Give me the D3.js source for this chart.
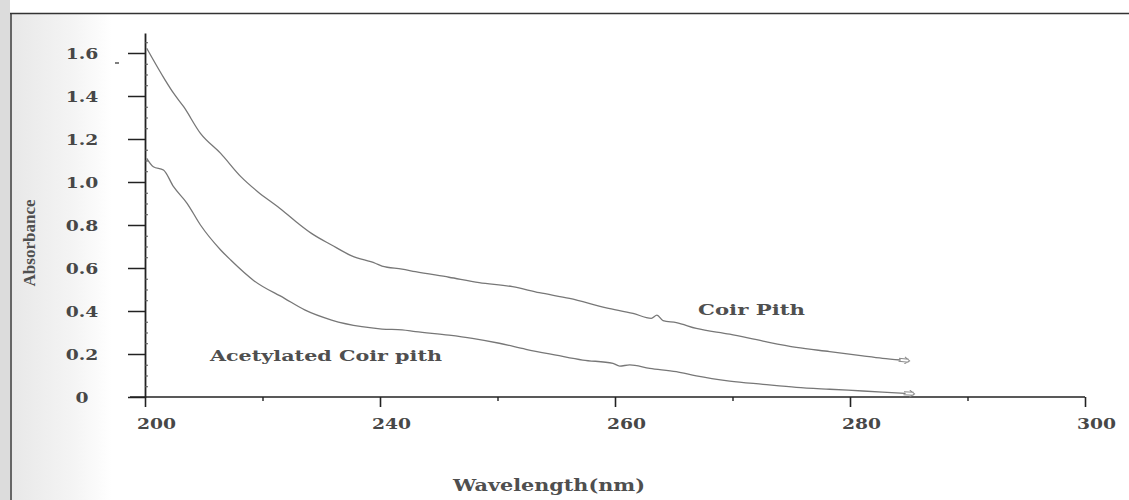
<!DOCTYPE html>
<html>
<head>
<meta charset="utf-8">
<script src="https://cdn.jsdelivr.net/npm/d3@7/dist/d3.min.js"></script>
<style>
  html, body { margin: 0; padding: 0; background: #fff; }
  svg { display: block; }
</style>
</head>
<body>
<svg id="chart" width="1129" height="500"></svg>
<script>
// ---- data ----
const xTickValues = [200, 240, 260, 280, 300];
const xMinorValues = [220, 250, 270, 290];
const yTickValues = [0, 0.2, 0.4, 0.6, 0.8, 1.0, 1.2, 1.4, 1.6];
const yTickLabels = ["0", "0.2", "0.4", "0.6", "0.8", "1.0", "1.2", "1.4", "1.6"];

const coirPithWavelength = [200.29, 203.43, 204.86, 206.58, 209.44, 212.88, 216.31, 219.18, 222.61, 226.04, 228.33, 231.76, 235.19, 239.19, 240.17, 241.88, 243.02, 245.87, 248.44, 251.28, 253.56, 256.13, 259.26, 261.53, 263.09, 263.57, 264.09, 265.22, 266.92, 269.76, 272.60, 275.43, 278.27, 281.09, 282.77, 284.31];
const coirPithAbsorbance = [1.622, 1.474, 1.413, 1.350, 1.226, 1.133, 1.025, 0.955, 0.885, 0.808, 0.761, 0.707, 0.656, 0.622, 0.609, 0.595, 0.583, 0.557, 0.532, 0.513, 0.485, 0.459, 0.415, 0.389, 0.366, 0.381, 0.355, 0.346, 0.319, 0.292, 0.260, 0.231, 0.211, 0.191, 0.180, 0.172];

const acetylWavelength = [200.29, 201.42, 203.14, 204.86, 207.16, 209.44, 212.88, 214.59, 218.59, 223.74, 227.18, 231.76, 236.91, 240.17, 241.88, 243.02, 245.87, 247.86, 250.15, 252.42, 254.98, 257.26, 259.83, 260.40, 261.25, 262.95, 265.22, 266.92, 269.76, 272.60, 275.43, 278.27, 281.09, 282.77, 284.73];
const acetylAbsorbance = [1.110, 1.071, 1.056, 0.978, 0.901, 0.800, 0.684, 0.637, 0.540, 0.459, 0.405, 0.358, 0.327, 0.316, 0.312, 0.304, 0.288, 0.273, 0.250, 0.222, 0.195, 0.172, 0.156, 0.144, 0.149, 0.133, 0.118, 0.098, 0.074, 0.059, 0.045, 0.036, 0.028, 0.023, 0.017];

const seriesNames = ["Coir Pith", "Acetylated Coir pith"];
const xTitle = "Wavelength(nm)";
const yTitle = "Absorbance";

// ---- layout ----
const svg = d3.select("#chart");
const plotLeft = 145, plotRight = 1085, plotBottom = 397, plotTop = 33;
const yMax = 1.693;

// background: scanned page edge
const defs = svg.append("defs");
const grad = defs.append("linearGradient").attr("id", "edge").attr("x1", "0").attr("x2", "1");
grad.append("stop").attr("offset", "0").attr("stop-color", "#e8e8e8");
grad.append("stop").attr("offset", "0.6").attr("stop-color", "#f4f4f4");
grad.append("stop").attr("offset", "1").attr("stop-color", "#ffffff");
svg.append("rect").attr("x", 0).attr("y", 0).attr("width", 10).attr("height", 500).attr("fill", "#dcdcdc");
svg.append("rect").attr("x", 12).attr("y", 14).attr("width", 100).attr("height", 486).attr("fill", "url(#edge)");
svg.append("line").attr("x1", 11).attr("x2", 11).attr("y1", 13).attr("y2", 500)
  .attr("stroke", "#333").attr("stroke-width", 1.5);
svg.append("line").attr("x1", 10).attr("x2", 1129).attr("y1", 13.5).attr("y2", 13.5)
  .attr("stroke", "#333").attr("stroke-width", 1.5);

// scales (evenly spaced tick labels -> polylinear scale)
const step = (plotRight - plotLeft) / (xTickValues.length - 1);
const x = d3.scaleLinear()
  .domain(xTickValues)
  .range(xTickValues.map((d, i) => plotLeft + i * step));
const y = d3.scaleLinear().domain([0, yMax]).range([plotBottom, plotTop]);

const tickFont = "'DejaVu Serif', 'Liberation Serif', serif";
const tickColor = "#474747";

// x axis
svg.append("line").attr("x1", plotLeft - 15).attr("x2", plotRight)
  .attr("y1", plotBottom).attr("y2", plotBottom)
  .attr("stroke", "#222").attr("stroke-width", 1.5);

const xAxis = svg.append("g").attr("transform", `translate(0,${plotBottom})`)
  .call(d3.axisBottom(x).tickValues(xTickValues).tickSize(10).tickSizeOuter(0).tickFormat(d => String(d)));
xAxis.select(".domain").remove();
xAxis.selectAll(".tick line").attr("stroke", "#222").attr("stroke-width", 1.6);
xAxis.selectAll(".tick text")
  .attr("y", 0).attr("dy", "0.35em")
  .attr("transform", "translate(11,27) scale(1.25,1)")
  .attr("font-family", tickFont).attr("font-weight", "bold")
  .attr("font-size", 15).attr("fill", tickColor);

const xMinor = svg.append("g").attr("transform", `translate(0,${plotBottom})`)
  .call(d3.axisBottom(x).tickValues(xMinorValues).tickSize(4).tickSizeOuter(0).tickFormat(""));
xMinor.select(".domain").remove();
xMinor.selectAll(".tick line").attr("stroke", "#222").attr("stroke-width", 1.4);

// y axis
const yAxis = svg.append("g").attr("transform", `translate(${plotLeft},0)`)
  .call(d3.axisLeft(y).tickValues(yTickValues).tickSize(17).tickSizeOuter(0)
    .tickFormat((d, i) => yTickLabels[i]));
yAxis.select(".domain").attr("stroke", "#222").attr("stroke-width", 1.8);
yAxis.selectAll(".tick line").attr("stroke", "#222").attr("stroke-width", 1.5);
yAxis.selectAll(".tick text")
  .attr("x", 0).attr("dy", "0.35em")
  .attr("text-anchor", "middle")
  .attr("transform", "translate(-63,0) scale(1.25,1)")
  .attr("font-family", tickFont).attr("font-weight", "bold")
  .attr("font-size", 15).attr("fill", tickColor);

const yMinorValues = d3.range(1, 34).map(i => i * 0.05).filter(v => Math.abs(v / 0.2 - Math.round(v / 0.2)) > 0.01);
const yMinor = svg.append("g").attr("transform", `translate(${plotLeft},0)`)
  .call(d3.axisRight(y).tickValues(yMinorValues).tickSize(3).tickSizeOuter(0).tickFormat(""));
yMinor.select(".domain").remove();
yMinor.selectAll(".tick line").attr("stroke", "#555").attr("stroke-width", 1);

// small stray mark next to 1.6
svg.append("line").attr("x1", plotLeft - 30).attr("x2", plotLeft - 26)
  .attr("y1", y(1.6) + 10).attr("y2", y(1.6) + 10).attr("stroke", "#555").attr("stroke-width", 1.5);

// series
defs.append("marker").attr("id", "endmark").attr("viewBox", "0 -4 12 8")
  .attr("refX", 2).attr("refY", 0).attr("markerWidth", 12).attr("markerHeight", 8)
  .attr("markerUnits", "userSpaceOnUse").attr("orient", "auto")
  .append("path").attr("d", "M0,-1.5 L10,-1.5 M0,1.5 L10,1.5 M6,-3.5 L11,0 L6,3.5")
  .attr("fill", "none").attr("stroke", "#8a8a8a").attr("stroke-width", 1);

const line = d3.line().x(d => x(d[0])).y(d => y(d[1])).curve(d3.curveMonotoneX);
const series = [
  d3.zip(coirPithWavelength, coirPithAbsorbance),
  d3.zip(acetylWavelength, acetylAbsorbance)
];
svg.selectAll("path.series").data(series).join("path")
  .attr("class", "series")
  .attr("d", line)
  .attr("fill", "none")
  .attr("stroke", "#777")
  .attr("stroke-width", 1.3)
  .attr("stroke-linejoin", "round")
  .attr("marker-end", "url(#endmark)");

// annotations
svg.append("text").attr("x", 698).attr("y", 310).attr("dy", "0.35em")
  .attr("font-family", tickFont).attr("font-weight", "bold").attr("font-size", 15)
  .attr("textLength", 107).attr("lengthAdjust", "spacingAndGlyphs")
  .attr("fill", "#4f4f4f").text(seriesNames[0]);
svg.append("text").attr("x", 210).attr("y", 356).attr("dy", "0.35em")
  .attr("font-family", tickFont).attr("font-weight", "bold").attr("font-size", 15)
  .attr("textLength", 232).attr("lengthAdjust", "spacingAndGlyphs")
  .attr("fill", "#4f4f4f").text(seriesNames[1]);

// axis titles
svg.append("text").attr("x", 453).attr("y", 485).attr("dy", "0.35em")
  .attr("font-family", tickFont).attr("font-weight", "bold").attr("font-size", 16)
  .attr("textLength", 192).attr("lengthAdjust", "spacingAndGlyphs")
  .attr("fill", "#4f4f4f").text(xTitle);
svg.append("text")
  .attr("transform", "translate(29,243) rotate(-90)")
  .attr("text-anchor", "middle").attr("dy", "0.35em")
  .attr("font-family", "'Liberation Serif', 'Times New Roman', serif").attr("font-weight", "bold")
  .attr("font-size", 16).attr("textLength", 87).attr("lengthAdjust", "spacingAndGlyphs")
  .attr("fill", "#4f4f4f").text(yTitle);
</script>
</body>
</html>
